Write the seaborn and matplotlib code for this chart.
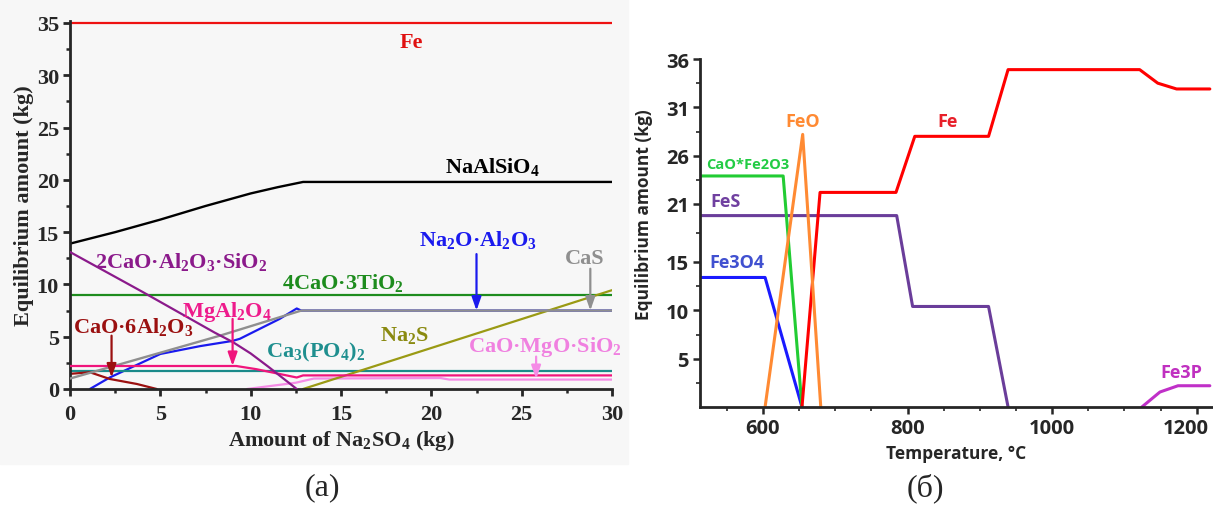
import numpy as np
import pandas as pd
import matplotlib
matplotlib.use("Agg")
import matplotlib.pyplot as plt
from matplotlib.ticker import MultipleLocator, FixedLocator
from matplotlib.patches import Rectangle
from matplotlib.transforms import ScaledTranslation
import seaborn as sns

sns.set_style("ticks")
plt.rcParams["mathtext.fontset"] = "custom"
plt.rcParams["mathtext.rm"] = "Liberation Serif:bold"
plt.rcParams["mathtext.bf"] = "Liberation Serif:bold"

# ---------------- (a) equilibrium vs Na2SO4 addition ----------------
na2so4_fe = [0, 30]
fe_a = [35.0, 35.0]

na2so4_nas = [0, 2.5, 5, 7.5, 10, 11.5, 12.9, 30]
nas = [13.9, 15.0, 16.2, 17.5, 18.7, 19.3, 19.8, 19.8]

na2so4_c2as = [0, 4, 8, 9, 10, 11, 12.55]
c2as = [13.1, 9.3, 5.4, 4.5, 3.4, 2.1, 0.0]

na2so4_c4t3 = [0, 30]
c4t3 = [9.0, 9.0]

na2so4_na = [1.1, 2.2, 5.0, 7.2, 9.0, 9.4, 11.6, 12.55, 12.8, 30]
na2o_al2o3 = [0.0, 1.1, 3.35, 4.1, 4.6, 4.8, 6.7, 7.7, 7.5, 7.5]

na2so4_cas = [0, 8.3, 12.8, 30]
cas = [1.0, 5.1, 7.5, 7.5]

na2so4_ma = [0, 9.2, 10.3, 12.55, 12.9, 30]
mgal2o4 = [2.2, 2.2, 1.9, 1.1, 1.3, 1.3]

na2so4_ca6 = [0, 1.1, 2.2, 3.7, 4.8]
ca6 = [1.45, 1.6, 0.96, 0.48, 0.0]

na2so4_cp = [0, 30]
ca3po4 = [1.7, 1.7]

na2so4_ns = [12.9, 30]
na2s = [0.0, 9.45]

na2so4_cms = [9.8, 12.5, 13.5, 20.5, 21.0, 30]
cms = [0.0, 0.6, 1.0, 1.05, 0.9, 0.9]

# ---------------- (б) equilibrium vs temperature ----------------
t_fe = [654, 679, 784, 810, 912, 939, 1121, 1146, 1172, 1218]
fe_b = [0.0, 22.2, 22.2, 28.0, 28.0, 34.9, 34.9, 33.5, 32.9, 32.9]

t_cf = [513, 628, 654]
cao_fe2o3 = [23.9, 23.9, 0.0]

t_fes = [513, 785, 807, 912, 939]
fes = [19.8, 19.8, 10.4, 10.4, 0.0]

t_fe3o4 = [513, 603, 654]
fe3o4 = [13.4, 13.4, 0.0]

t_feo = [603, 655, 680]
feo = [0.0, 28.2, 0.0]

t_fe3p = [1124, 1149, 1174, 1218]
fe3p = [0.0, 1.55, 2.2, 2.2]

temp_ticks = [600, 800, 1000, 1200]
amount_ticks_b = [5, 10, 15, 21, 26, 31, 36]

W, H = 1213, 506
fig = plt.figure(figsize=(W / 100, H / 100), dpi=100)
fig.patches.append(Rectangle((0, 1 - 465 / H), 628 / W, 465 / H,
                             transform=fig.transFigure, color="#f7f7f7", zorder=-10))

def rect(l, t, r, b):
    return [l / W, 1 - b / H, (r - l) / W, (b - t) / H]

TIMES = "Liberation Serif"
OPEN = "Open Sans"

# ---------- panel (a) ----------
axA = fig.add_axes(rect(70, 21.9, 612, 390))
axA.set_facecolor("none")

def line(ax, x, y, color, lw, z=2):
    sns.lineplot(x=x, y=y, ax=ax, color=color, lw=lw, sort=False,
                 estimator=None, zorder=z, legend=False)

line(axA, na2so4_fe, fe_a, "#ee1111", 1.6)
line(axA, na2so4_nas, nas, "#000000", 1.7)
line(axA, na2so4_c4t3, c4t3, "#1e8c1e", 1.6)
line(axA, na2so4_na, na2o_al2o3, "#1a1aee", 1.6, 2)
line(axA, na2so4_cas, cas, "#8f8f8f", 1.7, 3)
line(axA, na2so4_cp, ca3po4, "#1a8a8a", 1.6)
line(axA, na2so4_ma, mgal2o4, "#f0147c", 1.6, 3)
line(axA, na2so4_cms, cms, "#f58ce6", 1.6)
line(axA, na2so4_ca6, ca6, "#9b1010", 1.6)
line(axA, na2so4_c2as, c2as, "#8b1a8b", 1.6, 3)
line(axA, na2so4_ns, na2s, "#9a9a14", 1.6)

axA.set_xlim(0, 30)
axA.set_ylim(0, 35.2)
axA.xaxis.set_major_locator(MultipleLocator(5))
axA.xaxis.set_minor_locator(MultipleLocator(2.5))
axA.yaxis.set_major_locator(MultipleLocator(5))
axA.yaxis.set_minor_locator(MultipleLocator(2.5))
for s in ["top", "right"]:
    axA.spines[s].set_visible(False)
for s in ["left", "bottom"]:
    axA.spines[s].set_linewidth(2.0)
axA.tick_params(which="major", direction="out", length=5, width=2.0)
axA.tick_params(axis="x", which="major", pad=6)
axA.tick_params(axis="y", which="major", pad=3)
axA.tick_params(which="minor", direction="out", length=3, width=1.8)
for lab in axA.get_xticklabels() + axA.get_yticklabels():
    lab.set_fontfamily(TIMES)
    lab.set_fontweight("bold")
    lab.set_fontsize(16)
axA.set_xlabel("Amount of Na$_\\mathregular{2}$SO$_\\mathregular{4}$ (kg)",
               fontfamily=TIMES, fontweight="bold", fontsize=16, labelpad=3)
axA.set_ylabel("Equilibrium amount (kg)", fontfamily=TIMES, fontweight="bold",
               fontsize=16, labelpad=2)

def lab(ax, x, y, s, color, fam=TIMES, size=16):
    ax.text(x, y, s, color=color, fontfamily=fam, fontweight="bold",
            fontsize=size, ha="center", va="center")

def arrow(ax, x, y0, y1, color):
    ax.annotate("", xy=(x, y1), xytext=(x, y0),
                arrowprops=dict(arrowstyle="-|>,head_width=0.28,head_length=0.8",
                                color=color, lw=1.6, shrinkA=0, shrinkB=0),
                zorder=5)

lab(axA, 18.9, 33.2, "Fe", "#e01010")
lab(axA, 23.4, 21.3, "NaAlSiO$_\\mathregular{4}$", "#000000")
lab(axA, 22.6, 14.3, "Na$_\\mathregular{2}$O·Al$_\\mathregular{2}$O$_\\mathregular{3}$", "#1a1aee")
arrow(axA, 22.5, 12.9, 7.5, "#1a1aee")
lab(axA, 28.5, 12.5, "CaS", "#8f8f8f")
arrow(axA, 28.8, 11.5, 7.5, "#8f8f8f")
lab(axA, 15.1, 10.2, "4CaO·3TiO$_\\mathregular{2}$", "#1e8c1e")
lab(axA, 6.15, 12.2, "2CaO·Al$_\\mathregular{2}$O$_\\mathregular{3}$·SiO$_\\mathregular{2}$", "#8b1a8b")
lab(axA, 8.7, 7.5, "MgAl$_\\mathregular{2}$O$_\\mathregular{4}$", "#ee1b8c")
arrow(axA, 9.0, 6.7, 2.2, "#f0147c")
lab(axA, 3.5, 6.0, "CaO·6Al$_\\mathregular{2}$O$_\\mathregular{3}$", "#9b1010")
arrow(axA, 2.3, 5.1, 1.1, "#9b1010")
lab(axA, 13.6, 3.6, "Ca$_\\mathregular{3}$(PO$_\\mathregular{4}$)$_\\mathregular{2}$", "#1f8f8f")
lab(axA, 18.5, 5.1, "Na$_\\mathregular{2}$S", "#8a8a10")
lab(axA, 26.3, 4.1, "CaO·MgO·SiO$_\\mathregular{2}$", "#f080e0")
arrow(axA, 25.8, 3.1, 0.95, "#f58ce6")

# ---------- panel (б) ----------
axB = fig.add_axes(rect(700, 60, 1212, 408))
axB.set_facecolor("none")
line(axB, t_fes, fes, "#6a3d9a", 2.2)
line(axB, t_fe3o4, fe3o4, "#1a1aff", 2.2)
line(axB, t_cf, cao_fe2o3, "#22cc33", 2.2)
line(axB, t_fe, fe_b, "#ff0000", 2.2)
line(axB, t_feo, feo, "#ff8a33", 2.2)
line(axB, t_fe3p, fe3p, "#c030c8", 2.2)

axB.set_xlim(513, 1221)
axB.set_ylim(0, 36)
axB.set_xticks(temp_ticks, labels=[str(t) for t in temp_ticks])
axB.xaxis.set_minor_locator(MultipleLocator(50))
axB.set_yticks(amount_ticks_b, labels=[str(t) for t in amount_ticks_b])
axB.yaxis.set_minor_locator(FixedLocator([2.5, 7.5, 12.5, 18, 23.5, 28.5, 33.5]))
for s in ["top", "right"]:
    axB.spines[s].set_visible(False)
for s in ["left", "bottom"]:
    axB.spines[s].set_linewidth(2.0)
axB.tick_params(which="major", direction="out", length=5, width=1.8, pad=3)
axB.tick_params(which="minor", direction="out", length=3, width=1.2)
for t in axB.get_xticklabels() + axB.get_yticklabels():
    t.set_fontfamily(OPEN)
    t.set_fontweight("bold")
    t.set_fontsize(14.5)
# the last temperature label sits a little left of its tick so it stays inside the figure
last = axB.get_xticklabels()[-1]
last.set_transform(last.get_transform() + ScaledTranslation(-0.11, 0, fig.dpi_scale_trans))

axB.set_xlabel("Temperature, °C", fontfamily=OPEN, fontweight="bold",
               fontsize=12.5, labelpad=4)
axB.set_ylabel("Equilibrium amount (kg)", fontfamily=OPEN, fontweight="bold",
               fontsize=12.5)
axB.yaxis.set_label_coords(-0.092, 0.555)

lab(axB, 655, 29.6, "FeO", "#ff8a33", OPEN, 13)
lab(axB, 579, 25.1, "CaO*Fe2O3", "#22cc44", OPEN, 10.5)
lab(axB, 549, 21.3, "FeS", "#7040a0", OPEN, 13)
lab(axB, 564, 15.0, "Fe3O4", "#4050d0", OPEN, 13)
lab(axB, 856, 29.6, "Fe", "#e8202a", OPEN, 13)
lab(axB, 1178, 3.6, "Fe3P", "#c030c0", OPEN, 13)

fig.text(322 / W, 1 - 488 / H, "(a)", fontfamily=TIMES, fontsize=23,
         ha="center", va="center")
fig.text(925 / W, 1 - 488 / H, "(б)", fontfamily=TIMES, fontsize=23,
         ha="center", va="center")

fig.savefig("out.png", dpi=100)
